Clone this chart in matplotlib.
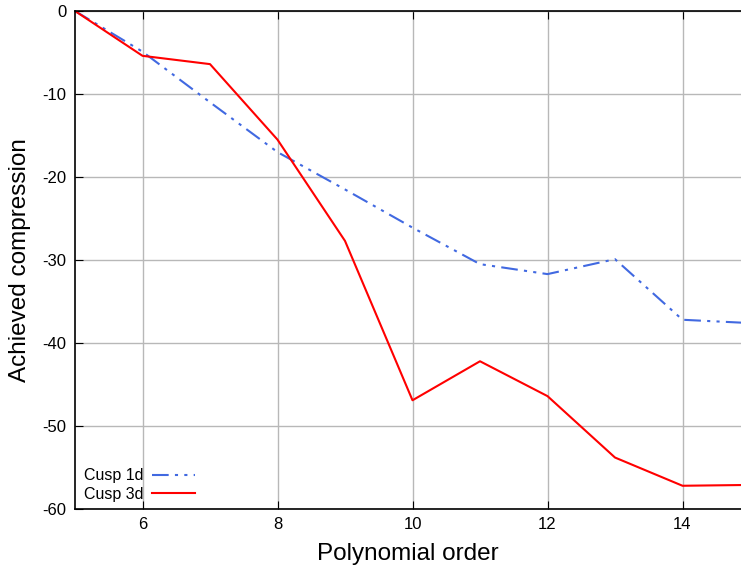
import matplotlib
matplotlib.use("Agg")
import matplotlib.pyplot as plt

plt.rcParams['font.family'] = ['Liberation Sans', 'DejaVu Sans']
plt.rcParams['axes.unicode_minus'] = False

order = [5, 6, 7, 8, 9, 10, 11, 12, 13, 14, 15]
cusp_1d = [0, -4.9, -11.0, -17.0, -21.5, -26.1, -30.5, -31.7, -29.9, -37.2, -37.6]
cusp_3d = [0, -5.4, -6.4, -15.5, -27.7, -46.9, -42.2, -46.4, -53.8, -57.2, -57.1]

fig = plt.figure(figsize=(7.41, 5.72), dpi=100)
ax = fig.add_axes([75/741, 1 - 509/572, 1 - 75/741 + 0.0, (509 - 11)/572])

ax.plot(order, cusp_1d, color='#4169e1', lw=1.5,
        dashes=(8, 3, 1.5, 3, 1.5, 3), label='Cusp 1d')
ax.plot(order, cusp_3d, color='#ff0000', lw=1.5, label='Cusp 3d')

ax.set_xlim(5, 5 + 666/67.5)
ax.set_ylim(-60, 0)
ax.set_xticks([6, 8, 10, 12, 14])
ax.set_yticks([-60, -50, -40, -30, -20, -10, 0])
ax.grid(True, color='#b8b8b8', lw=1)
ax.tick_params(direction='in', length=6, labelsize=12, top=True, right=False,
               pad=6)
ax.spines['right'].set_visible(False)
for s in ['left', 'bottom', 'top']:
    ax.spines[s].set_linewidth(1.2)

ax.set_xlabel('Polynomial order', fontsize=17.5, labelpad=8)
ax.set_ylabel('Achieved compression', fontsize=17.5, labelpad=8)

ax.legend(loc='lower left', frameon=False, markerfirst=False, fontsize=11.5,
          handlelength=2.7, handletextpad=0.5, labelspacing=0.2,
          bbox_to_anchor=(-0.008, -0.014))

fig.savefig('out.png', dpi=100)
